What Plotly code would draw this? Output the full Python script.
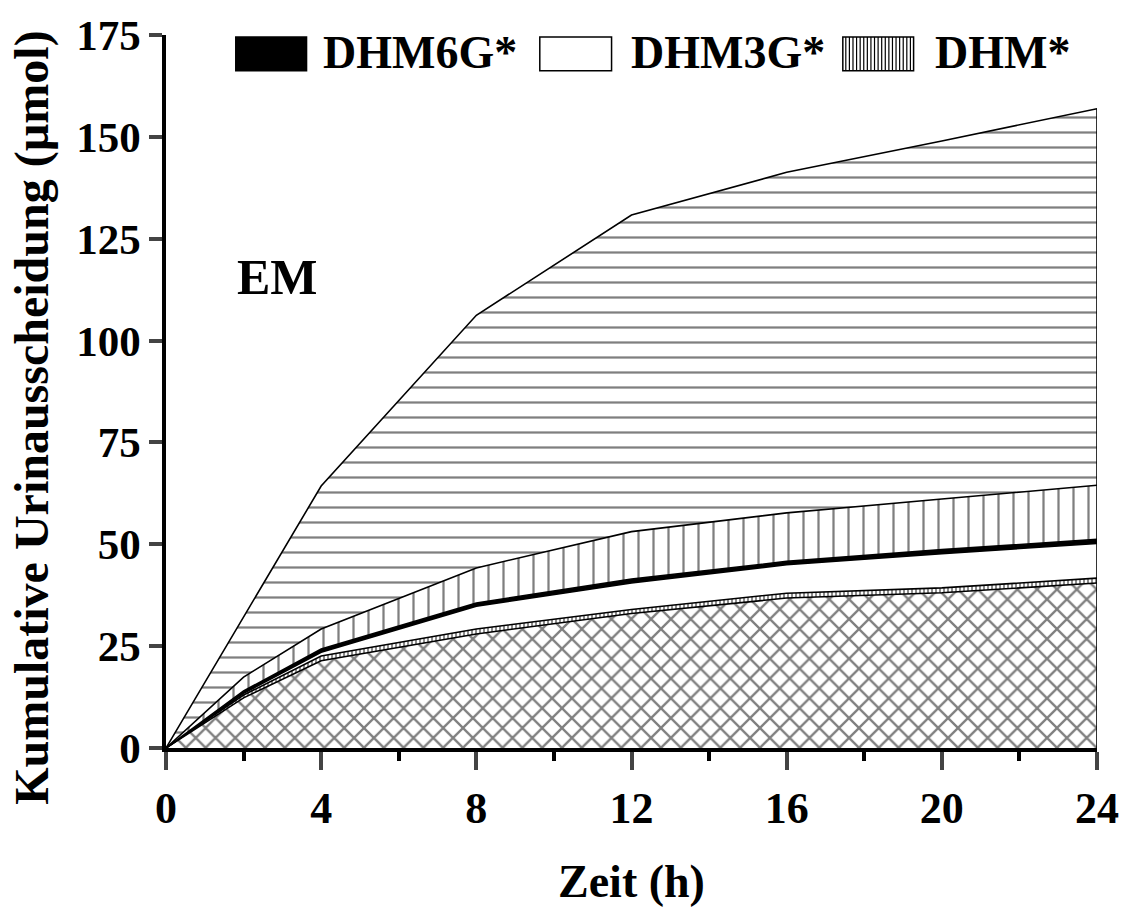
import plotly.graph_objects as go

# ---- data (µmol, cumulative layers) ----
zeit = [0, 2, 4, 8, 12, 16, 20, 24]
schicht_kreuz = [0, 12.3, 21.4, 28.0, 33.0, 36.8, 38.1, 40.5]
schicht_punkt = [0, 0.7, 1.2, 1.2, 1.0, 1.2, 1.2, 1.2]
dhm3g = [0, 0.4, 0.9, 5.6, 6.5, 7.0, 8.4, 8.5]
dhm6g = [0, 0.6, 0.8, 0.8, 1.0, 0.8, 1.0, 1.0]
dhm = [0, 3.4, 4.9, 8.6, 11.6, 11.9, 12.4, 13.3]
schicht_quer = [0, 14.8, 35.1, 62.0, 77.7, 83.6, 87.9, 92.4]

x_ticks = [0, 4, 8, 12, 16, 20, 24]
y_ticks = [0, 25, 50, 75, 100, 125, 150, 175]
legend_names = ["DHM6G*", "DHM3G*", "DHM*"]

FONT = "Liberation Serif"
fig = go.Figure()

layers = [
    ("Schicht 1", schicht_kreuz, dict(shape="x", size=14, solidity=0.3, fgcolor="black", bgcolor="white"), None),
    ("Schicht 2", schicht_punkt, dict(shape="|", size=4, solidity=0.45, fgcolor="black", bgcolor="white"), None),
    ("DHM3G*", dhm3g, None, "white"),
    ("DHM6G*", dhm6g, None, "black"),
    ("DHM*", dhm, dict(shape="|", size=15, solidity=0.15, fgcolor="black", bgcolor="white"), None),
    ("Schicht 3", schicht_quer, dict(shape="-", size=15, solidity=0.15, fgcolor="black", bgcolor="white"), None),
]
for name, vals, pat, col in layers:
    kw = dict(x=zeit, y=vals, name=name, mode="lines", stackgroup="one",
              line=dict(color="black", width=1.6), showlegend=False, hoverinfo="skip")
    if pat is not None:
        kw["fillpattern"] = pat
        kw["fillcolor"] = "white"
    else:
        kw["fillcolor"] = col
    fig.add_trace(go.Scatter(**kw))

# right edge of the stacked area
total_end = sum(l[1][-1] for l in layers)
fig.add_trace(go.Scatter(x=[zeit[-1], zeit[-1]], y=[0, total_end], mode="lines",
                         line=dict(color="black", width=1.6), showlegend=False, hoverinfo="skip"))

fig.update_layout(
    width=1131, height=911,
    margin=dict(l=166, r=31, t=30, b=163),
    paper_bgcolor="white", plot_bgcolor="white",
    font=dict(family=FONT, color="black"),
    showlegend=False,
)
fig.update_xaxes(range=[0, 24], tickvals=x_ticks, ticks="outside", ticklen=18, tickwidth=3.5,
                 showline=True, linewidth=3.5, linecolor="black", showgrid=False, zeroline=False,
                 tickfont=dict(family=FONT, size=44, color="black", weight="bold"),
                 minor=dict(dtick=2, ticks="outside", ticklen=9, tickwidth=3.5, tickcolor="black", showgrid=False))
fig.update_yaxes(range=[0, 175], tickvals=y_ticks, ticks="outside", ticklen=13, tickwidth=3.5,
                 showline=True, linewidth=3.5, linecolor="black", showgrid=False, zeroline=False,
                 tickfont=dict(family=FONT, size=43, color="black", weight="bold"))

def px_x(p):
    return (p - 166) / 934.0

def px_y(p):
    return (748 - p) / 718.0

annos = [
    dict(text="<b>Kumulative Urinausscheidung (µmol)</b>", x=px_x(32), y=px_y(415), textangle=-90,
         font=dict(size=48)),
    dict(text="<b>Zeit (h)</b>", x=0.5, y=px_y(882), font=dict(size=46)),
    dict(text="<b>EM</b>", x=px_x(278), y=px_y(274), font=dict(size=50)),
]
for a in annos:
    a.update(xref="paper", yref="paper", showarrow=False, xanchor="center", yanchor="middle")
    fig.add_annotation(**a)

# legend keys
box_y0, box_y1 = px_y(66), px_y(32)
boxes = [(236, 307, "black"), (541, 613, "white"), (845, 916, "white")]
text_x = [322, 630, 935]
for (x0, x1, fc), name, tx in zip(boxes, legend_names, text_x):
    fig.add_shape(type="rect", xref="paper", yref="paper", x0=px_x(x0), x1=px_x(x1),
                  y0=box_y0, y1=box_y1, fillcolor=fc, line=dict(color="black", width=1.5))
    fig.add_annotation(text="<b>%s</b>" % name, xref="paper", yref="paper", x=px_x(tx), y=px_y(48),
                       xanchor="left", yanchor="middle", showarrow=False, font=dict(size=46))
# striped key
xs = 845 + 3
while xs < 916:
    fig.add_shape(type="line", xref="paper", yref="paper", x0=px_x(xs), x1=px_x(xs),
                  y0=box_y0, y1=box_y1, line=dict(color="black", width=1.2))
    xs += 3.6

fig.write_html("out.html")
